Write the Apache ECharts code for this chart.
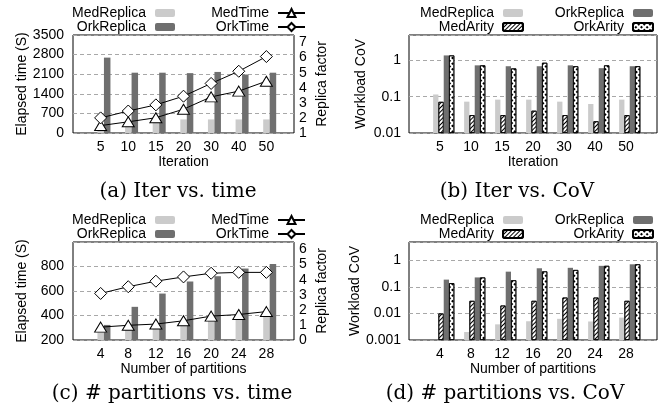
<!DOCTYPE html>
<html><head><meta charset="utf-8">
<script src="https://cdn.jsdelivr.net/npm/echarts@6/dist/echarts.min.js"></script>
<style>html,body{margin:0;padding:0;background:#fff}#c{width:662px;height:420px}</style>
</head><body><div id="c"></div>
<script>
// ---------- data ----------
const iterCats = ['5', '10', '15', '20', '30', '40', '50'];
const partCats = ['4', '8', '12', '16', '20', '24', '28'];

// (a) Iter vs. time
const iterMedReplica = [1.6, 1.7, 1.8, 1.9, 1.9, 1.9, 1.9];
const iterOrkReplica = [6.0, 5.0, 5.0, 4.97, 5.05, 4.88, 5.0];
const iterMedTime = [265, 400, 545, 850, 1290, 1495, 1850];
const iterOrkTime = [540, 785, 1005, 1315, 1770, 2205, 2730];

// (b) Iter vs. CoV
const iterCovMedReplica = [0.115, 0.073, 0.083, 0.083, 0.073, 0.063, 0.083];
const iterCovMedArity = [0.072, 0.031, 0.031, 0.041, 0.031, 0.021, 0.031];
const iterCovOrkReplica = [1.37, 0.73, 0.69, 0.69, 0.73, 0.61, 0.69];
const iterCovOrkArity = [1.37, 0.73, 0.60, 0.86, 0.69, 0.73, 0.69];

// (c) # partitions vs. time
const partMedReplica = [0.8, 0.9, 1.0, 1.2, 1.5, 1.55, 1.65];
const partOrkReplica = [1.0, 2.2, 3.08, 3.88, 4.23, 4.74, 5.04];
const partMedTime = [305, 320, 330, 357, 395, 408, 432];
const partOrkTime = [580, 635, 680, 715, 745, 752, 752];

// (d) # partitions vs. CoV
const partCovMedReplica = [null, 0.002, 0.0039, 0.0051, 0.0063, 0.005, 0.007];
const partCovMedArity = [0.01, 0.03, 0.02, 0.03, 0.04, 0.04, 0.03];
const partCovOrkReplica = [0.19, 0.23, 0.38, 0.51, 0.53, 0.63, 0.72];
const partCovOrkArity = [0.14, 0.23, 0.18, 0.39, 0.44, 0.63, 0.72];

const captions = ['(a) Iter vs. time', '(b) Iter vs. CoV', '(c) # partitions vs. time', '(d) # partitions vs. CoV'];

// ---------- styles ----------
const FONT = 'Liberation Sans';
const FS = 14;
const LIGHT = '#cbcbcb';
const DARK = '#6f6f6f';
const SHIFT = 0.12;
const diagDecal = {symbol: 'rect', symbolSize: 1, color: '#000', dashArrayX: [1, 0], dashArrayY: [1, 2], rotation: -Math.PI / 4};
const checkDecal = {symbol: 'rect', symbolSize: 1, color: '#000', dashArrayX: [2, 2], dashArrayY: [2, 2], rotation: Math.PI / 4};

const pairs = arr => arr.map((v, i) => [i, v == null ? '-' : v]);
const textStyle = {fontFamily: FONT, fontSize: FS, color: '#000'};
const plain = v => String(v);

const grids = [
  {left: 73, top: 35, width: 221, height: 98},
  {left: 409, top: 35, width: 248, height: 98},
  {left: 73, top: 242, width: 221, height: 98},
  {left: 409, top: 242, width: 248, height: 98}
].map(g => Object.assign(g, {show: true, borderColor: '#000', borderWidth: 1, backgroundColor: 'transparent', containLabel: false}));

function xAxes(gi, cats, name, nameGap) {
  return [
    {type: 'value', gridIndex: gi, min: -1, max: 7, interval: 1,
     name: name, nameLocation: 'middle', nameGap: nameGap, nameTextStyle: textStyle,
     axisLine: {show: false}, axisTick: {show: false}, splitLine: {show: false},
     axisLabel: Object.assign({margin: 7, formatter: v => (cats[v] !== undefined ? cats[v] : '')}, textStyle)},
    {type: 'value', gridIndex: gi, min: -1 - SHIFT, max: 7 - SHIFT, show: false, splitLine: {show: false}}
  ];
}

const split = {show: true, lineStyle: {color: '#a8a8a8', type: [4, 3], width: 1}};
function logFmt(v) {
  const l = Math.log10(v);
  if (Math.abs(l - Math.round(l)) > 1e-6) return '';
  return String(+v.toPrecision(1));
}

const xAxis = [].concat(
  xAxes(0, iterCats, 'Iteration', 21),
  xAxes(1, iterCats, 'Iteration', 21),
  xAxes(2, partCats, 'Number of partitions', 21),
  xAxes(3, partCats, 'Number of partitions', 21)
);

const yAxis = [
  // 0: (a) left
  {type: 'value', gridIndex: 0, min: 0, max: 3500, interval: 700, name: 'Elapsed time (S)',
   nameLocation: 'middle', nameGap: 44, nameTextStyle: textStyle,
   axisLine: {show: false}, axisTick: {show: false}, splitLine: split,
   axisLabel: Object.assign({margin: 9, formatter: plain}, textStyle)},
  // 1: (a) right
  {type: 'value', gridIndex: 0, position: 'right', min: 1, max: 7.5, interval: 1, name: 'Replica factor',
   nameLocation: 'middle', nameGap: 21, nameTextStyle: textStyle,
   axisLine: {show: false}, axisTick: {show: false}, splitLine: {show: false},
   axisLabel: Object.assign({margin: 5, showMaxLabel: false, formatter: v => (Number.isInteger(v) ? String(v) : '')}, textStyle)},
  // 2: (b) log
  {type: 'log', logBase: 10, gridIndex: 1, min: 0.01, max: 5, startValue: 0.01, name: 'Workload CoV',
   nameLocation: 'middle', nameGap: 41, nameTextStyle: textStyle,
   axisLine: {show: false}, axisTick: {show: false}, splitLine: split, minorSplitLine: {show: false},
   axisLabel: Object.assign({margin: 8, showMaxLabel: false, formatter: logFmt}, textStyle)},
  // 3: (c) left
  {type: 'value', gridIndex: 2, min: 200, max: 1000, interval: 200, name: 'Elapsed time (S)',
   nameLocation: 'middle', nameGap: 44, nameTextStyle: textStyle,
   axisLine: {show: false}, axisTick: {show: false}, splitLine: split,
   axisLabel: Object.assign({margin: 9, showMaxLabel: false, formatter: plain}, textStyle)},
  // 4: (c) right
  {type: 'value', gridIndex: 2, position: 'right', min: 0, max: 6.5, interval: 1, name: 'Replica factor',
   nameLocation: 'middle', nameGap: 21, nameTextStyle: textStyle,
   axisLine: {show: false}, axisTick: {show: false}, splitLine: {show: false},
   axisLabel: Object.assign({margin: 5, showMaxLabel: false, formatter: v => (Number.isInteger(v) ? String(v) : '')}, textStyle)},
  // 5: (d) log
  {type: 'log', logBase: 10, gridIndex: 3, min: 0.001, max: 5, startValue: 0.001, name: 'Workload CoV',
   nameLocation: 'middle', nameGap: 35, nameTextStyle: textStyle,
   axisLine: {show: false}, axisTick: {show: false}, splitLine: split, minorSplitLine: {show: false},
   axisLabel: Object.assign({margin: 8, showMaxLabel: false, formatter: logFmt}, textStyle)}
];

function bar(name, data, xi, yi, color, w, decal) {
  const s = {name: name, type: 'bar', xAxisIndex: xi, yAxisIndex: yi, data: pairs(data),
    barWidth: w, barGap: '0%', z: 2, clip: true,
    itemStyle: {color: color}};
  if (decal) { s.itemStyle = {color: '#fff', borderColor: '#000', borderWidth: 0.8, decal: decal}; }
  return s;
}
function line(name, data, xi, yi, symbol, size) {
  return {name: name, type: 'line', xAxisIndex: xi, yAxisIndex: yi, data: pairs(data),
    symbol: symbol, symbolSize: size, z: 5, showAllSymbol: true,
    lineStyle: {color: '#000', width: 1},
    itemStyle: {color: '#fff', borderColor: '#000', borderWidth: 1}};
}

const series = [
  bar('MedReplica', iterMedReplica, 1, 1, LIGHT, 6.5),
  bar('OrkReplica', iterOrkReplica, 1, 1, DARK, 6.5),
  line('MedTime', iterMedTime, 0, 0, 'triangle', [12, 10]),
  line('OrkTime', iterOrkTime, 0, 0, 'diamond', [12, 12]),

  bar('MedReplica', iterCovMedReplica, 3, 2, LIGHT, 5.3),
  bar('MedArity', iterCovMedArity, 3, 2, null, 5.3, diagDecal),
  bar('OrkReplica', iterCovOrkReplica, 3, 2, DARK, 5.3),
  bar('OrkArity', iterCovOrkArity, 3, 2, null, 5.3, checkDecal),

  bar('MedReplica', partMedReplica, 5, 4, LIGHT, 6.5),
  bar('OrkReplica', partOrkReplica, 5, 4, DARK, 6.5),
  line('MedTime', partMedTime, 4, 3, 'triangle', [12, 10]),
  line('OrkTime', partOrkTime, 4, 3, 'diamond', [12, 12]),

  bar('MedReplica', partCovMedReplica, 7, 5, LIGHT, 5.3),
  bar('MedArity', partCovMedArity, 7, 5, null, 5.3, diagDecal),
  bar('OrkReplica', partCovOrkReplica, 7, 5, DARK, 5.3),
  bar('OrkArity', partCovOrkArity, 7, 5, null, 5.3, checkDecal)
];

function legend(names, right, top, textW, iw, ih) {
  return {data: names, orient: 'vertical', right: right, top: top, align: 'right',
    itemGap: 0, itemWidth: iw, itemHeight: ih, selectedMode: false, padding: 0,
    formatter: '{t|{name}}',
    textStyle: {fontFamily: FONT, fontSize: FS, color: '#000', lineHeight: 13,
      rich: {t: {width: textW, align: 'right', fontFamily: FONT, fontSize: FS, lineHeight: 13, padding: [0, 4, 0, 0]}}}};
}

const legends = [
  legend(['MedReplica', 'OrkReplica'], 487, 6, 78, 20, 8),
  legend(['MedTime', 'OrkTime'], 356, 6, 60, 27, 10),
  legend(['MedReplica', 'MedArity'], 138, 6, 78, 20, 8),
  legend(['OrkReplica', 'OrkArity'], 8, 6, 72, 20, 8),
  legend(['MedReplica', 'OrkReplica'], 487, 213, 78, 20, 8),
  legend(['MedTime', 'OrkTime'], 356, 213, 60, 27, 10),
  legend(['MedReplica', 'MedArity'], 138, 213, 78, 20, 8),
  legend(['OrkReplica', 'OrkArity'], 8, 213, 72, 20, 8)
];

const capPos = [[178, 192], [517, 192], [172, 394], [505, 394]];
const graphic = captions.map((t, i) => ({type: 'text', x: capPos[i][0], y: capPos[i][1],
  style: {text: t, fontFamily: 'DejaVu Serif', fontSize: 20, fill: '#000', align: 'center', verticalAlign: 'middle',
    textAlign: 'center', textVerticalAlign: 'middle'}}));

const chart = echarts.init(document.getElementById('c'));
chart.setOption({
  animation: false,
  backgroundColor: '#fff',
  grid: grids,
  xAxis: xAxis,
  yAxis: yAxis,
  legend: legends,
  series: series,
  graphic: graphic
});
</script>
</body></html>
